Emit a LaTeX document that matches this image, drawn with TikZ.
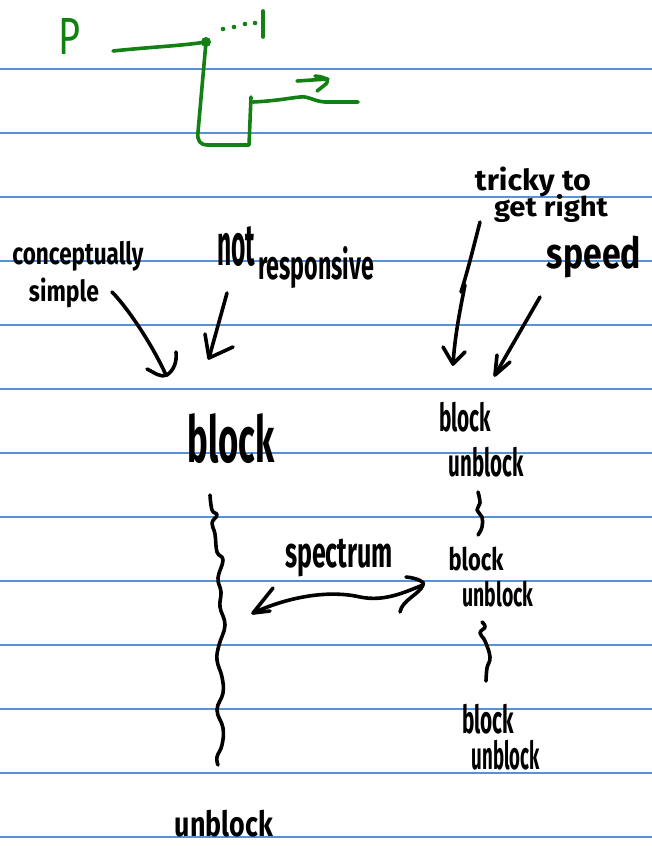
\documentclass[tikz,border=0pt]{standalone}
\usepackage{fontspec}
\setmainfont{Fira Sans}
\usepackage{graphicx}
\definecolor{rulecol}{RGB}{84,146,222}
\definecolor{pen}{RGB}{18,128,18}
% text scaled to a given width and total height (in pt)
\newcommand\hw[3]{\resizebox*{#1pt}{#2pt}{#3}}
\begin{document}
\begin{tikzpicture}[x=1pt,y=-1pt,
  ruleline/.style={draw=rulecol,line width=1.3pt},
  ink/.style={line width=3.6pt,line cap=round,line join=round},
  greenink/.style={ink,draw=pen},
  hand/.style={inner sep=0pt,outer sep=0pt,text=black,font=\bfseries},
]
\useasboundingbox (0,0) rectangle (652,846);
\fill[white] (0,0) rectangle (652,846);

% ruled paper
\foreach \y in {69,133,...,837} \draw[ruleline] (0,\y) -- (652,\y);

% ---------- green sketch: wire with a dip ----------
\node[hand,text=pen,font=\mdseries] (plabel) at (70,36) {\hw{22}{36}{P}};
\coordinate (wa) at (113,51);
\coordinate (wdot) at (206,42);
\draw[greenink] (wa) .. controls (150,47) and (180,46) .. (wdot);
\fill[pen] (wdot) circle (5);
\draw[greenink] (wdot) -- (198,132) .. controls (197,141) and (200,145) .. (208,145)
  -- (249,145) -- (251,97);
\draw[greenink] (253,102) .. controls (275,101) and (290,98) .. (300,97)
  .. controls (310,96) and (312,101) .. (325,102) -- (358,102);
\foreach \p in {(223,29),(234,27),(245,24),(255,23)} \fill[pen] \p circle (2.3);
\draw[greenink] (263,11) -- (263,37);
\draw[greenink] (297,81) -- (328,79);
\draw[greenink] (315,76) .. controls (324,77) and (330,79) .. (326,84) -- (317,91);

% ---------- labels ----------
\node[hand] (concept) at (78,256) {\hw{131}{30}{conceptually}};
\node[hand] (simple) at (64,293) {\hw{70}{30}{simple}};
\node[hand] (notl) at (236,246) {\hw{38}{40}{not}};
\node[hand] (resp) at (316,268) {\hw{116}{42}{responsive}};
\node[hand] (tricky) at (533,182) {\hw{116}{30}{tricky to}};
\node[hand] (getright) at (551,209) {\hw{114}{28}{get right}};
\node[hand] (speed) at (594,257) {\hw{94}{42}{speed}};

\node[hand] (blockL) at (231,439) {\hw{87}{50}{block}};
\node[hand] (unblockL) at (224,824) {\hw{98}{27}{unblock}};

\node[hand] (blockA) at (465,417) {\hw{52}{30}{block}};
\node[hand] (unblockA) at (486,462) {\hw{75}{30}{unblock}};
\node[hand] (blockB) at (476,559) {\hw{55}{24}{block}};
\node[hand] (unblockB) at (498,594) {\hw{71}{26}{unblock}};
\node[hand] (blockC) at (488,719) {\hw{52}{30}{block}};
\node[hand] (unblockC) at (506,755) {\hw{68}{30}{unblock}};

\node[hand] (spectrum) at (339,558) {\hw{108}{38}{spectrum}};

% ---------- arrows into the two columns ----------
% conceptually simple -> block
\coordinate (a1s) at (112,292);
\coordinate (a1e) at (166,375);
\draw[ink] (a1s) .. controls (125,305) and (150,340) .. (a1e);
\draw[ink] (147,369) .. controls (155,373) and (161,378) .. (167,375)
  .. controls (174,370) and (177,362) .. (176,352);
% not responsive -> block
\coordinate (a2s) at (227,293);
\coordinate (a2e) at (209,358);
\draw[ink] (a2s) -- (a2e);
\draw[ink] (205,334) -- (a2e) -- (233,347);
% tricky to get right -> block/unblock
\coordinate (a3s) at (480,222);
\coordinate (a3e) at (453,364);
\draw[ink] (a3s) .. controls (474,245) and (468,270) .. (461,292);
\draw[ink] (465,285) .. controls (460,310) and (455,335) .. (a3e);
\draw[ink] (443,347) -- (a3e) -- (465,352);
% speed -> block/unblock
\coordinate (a4s) at (540,297);
\coordinate (a4e) at (495,375);
\draw[ink] (a4s) -- (a4e);
\draw[ink] (497,355) -- (a4e) -- (510,362);

% ---------- long wait between block and unblock ----------
\draw[ink] plot[smooth,tension=0.7] coordinates {
  (210,495) (212,510) (217,515) (212,523) (215,534) (217,552) (223,560)
  (218,578) (221,592) (220,607) (225,625) (219,645) (217,660) (222,677)
  (223,693) (217,710) (223,728) (222,745) (217,757) (218,765)};

% short waits in the right column
\draw[ink] plot[smooth,tension=0.7] coordinates {
  (478,492) (480,503) (477,510) (482,517) (482,527) (478,535)};
\draw[ink] plot[smooth,tension=0.7] coordinates {
  (482,622) (485,627) (480,633) (485,641) (490,657) (487,668) (486,681)};

% ---------- spectrum double arrow ----------
\coordinate (sl) at (253,613);
\coordinate (sr) at (423,585);
\draw[ink] (sl) .. controls (290,596) and (330,590) .. (360,597)
  .. controls (385,602) and (405,592) .. (sr);
\draw[ink] (273,588) -- (sl) -- (270,611);
\draw[ink] (406,577) .. controls (418,578) and (426,583) .. (sr)
  .. controls (420,594) and (402,600) .. (400,612);
\end{tikzpicture}
\end{document}
